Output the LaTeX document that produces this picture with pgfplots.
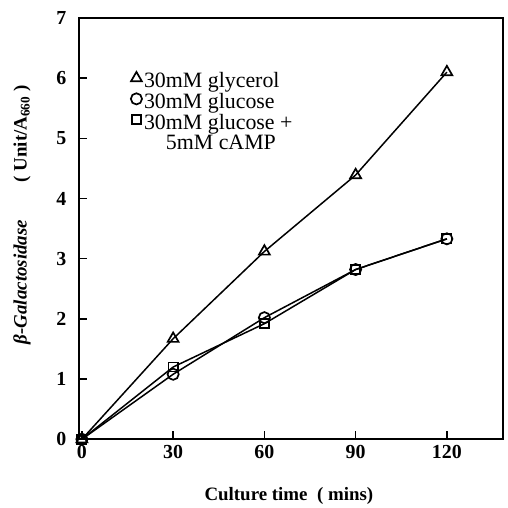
\documentclass[border=0pt]{standalone}
\usepackage{pgfplots}
\pgfplotsset{compat=1.18}
\usepackage{fontspec}
\setmainfont{Liberation Serif}
\begin{document}
\begin{tikzpicture}
\begin{axis}[
    scale only axis,
    width=425bp, height=422bp,
    xmin=-1, xmax=138.5,
    ymin=0, ymax=7,
    xtick={0,30,60,90,120},
    ytick={0,1,2,3,4,5,6,7},
    tick align=inside,
    xtick pos=bottom, ytick pos=left,
    major tick length=8bp,
    axis line style={line width=1.6bp},
    every tick/.style={line width=1.4bp, black},
    /pgf/number format/assume math mode=true,
    ticklabel style={font=\fontsize{20}{20}\selectfont\bfseries},
    xticklabel style={yshift=-3bp},
    yticklabel style={xshift=-9bp},
    xlabel={\textbf{Culture time\ \ ( mins)}},
    ylabel={\textbf{\textit{β-Galactosidase}}\qquad\textbf{( Unit/A\textsubscript{660} )}},
    label style={font=\fontsize{19}{19}\selectfont},
    xlabel style={at={(axis description cs:0.495,-0.135)}, anchor=center},
    ylabel style={at={(axis description cs:-0.134,0.533)}, anchor=center},
    legend style={at={(0.115,0.88)}, anchor=north west, draw=none, fill=none,
        font=\fontsize{22}{22}\selectfont, row sep=0bp,
        nodes={inner xsep=2bp}},
    legend cell align=left,
    legend image code/.code={\draw[#1] plot[only marks] coordinates {(0.12cm,0.1cm)};},
]
\addplot[black, line width=1.5bp, mark=triangle, mark size=6.3bp,
    mark options={fill=white, line width=1.7bp, solid}] coordinates {
    (0,0) (30,1.67) (60,3.12) (90,4.39) (120,6.1)
};
\addlegendentry{30mM glycerol}

\addplot[black, line width=1.5bp, mark=o, mark size=5.6bp,
    mark options={fill=white, line width=1.7bp, solid}] coordinates {
    (0,0) (30,1.08) (60,2.02) (90,2.82) (120,3.33)
};
\addlegendentry{30mM glucose}

\addplot[black, line width=1.5bp, mark=square, mark size=4.6bp,
    mark options={fill=white, line width=1.7bp, solid}] coordinates {
    (0,0) (30,1.2) (60,1.92) (90,2.82) (120,3.33)
};
\addlegendentry{30mM glucose +}

\addlegendimage{empty legend}
\addlegendentry{\hspace{1.0em}5mM cAMP}
\end{axis}
\path ([xshift=-79bp,yshift=-64bp]current axis.south west)
      ([xshift=4bp,yshift=18bp]current axis.north east);
\end{tikzpicture}
\end{document}
